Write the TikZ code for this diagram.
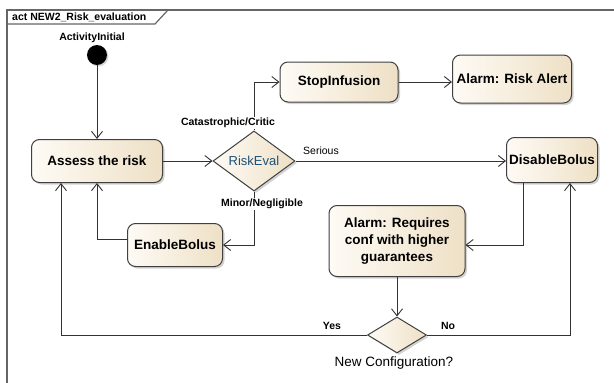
\documentclass[tikz,border=0pt]{standalone}
\usepackage{fontspec}
\setmainfont{Liberation Sans}
\usetikzlibrary{shapes.geometric,arrows.meta,shadows}
\definecolor{actlight}{RGB}{254,251,245}
\definecolor{actdark}{RGB}{238,224,198}
\definecolor{actline}{RGB}{64,64,64}
\definecolor{evaltext}{RGB}{30,80,120}
\begin{document}
\begin{tikzpicture}[x=1pt,y=-1pt,
  action/.style={draw=actline,line width=1pt,rounded corners=8pt,left color=actlight,right color=actdark,
    drop shadow={shadow xshift=2pt,shadow yshift=-2pt,opacity=0.35},
    font=\fontsize{13.5}{17}\selectfont\bfseries,align=center,inner sep=0pt},
  decision/.style={diamond,draw=actline,line width=1pt,left color=actlight,right color=actdark,
    drop shadow={shadow xshift=2pt,shadow yshift=-2pt,opacity=0.35},inner sep=0pt},
  guard/.style={font=\fontsize{10.5}{12}\selectfont\bfseries,fill=white,inner sep=1pt},
  flow/.style={draw=black!80,line width=0.9pt,-{Straight Barb[length=7pt,width=11pt]}}]
\useasboundingbox (0,0) rectangle (614,383);
\draw[actline!80,line width=1.2pt] (7,383) -- (7,10) -- (614,10);
\draw[actline!80,line width=1.2pt] (7,24) -- (155,24) -- (168,10);
\node[anchor=west,font=\fontsize{10.5}{12}\selectfont\bfseries,inner sep=0pt] (frametitle) at (12,17) {act NEW2\_Risk\_evaluation};
\node[circle,fill=black,minimum size=20pt,inner sep=0pt,drop shadow={shadow xshift=1.5pt,shadow yshift=-1.5pt,opacity=0.3}] (start) at (97,55) {};
\node[font=\fontsize{10.5}{12}\selectfont\bfseries,inner sep=0pt] (startlabel) at (92,38) {ActivityInitial};
\node[action,minimum width=131pt,minimum height=43pt] (assess) at (97,161) {Assess the risk};
\node[decision,minimum width=82pt,minimum height=55pt,font=\fontsize{13}{15}\selectfont,text=evaltext] (riskeval) at (254,161) {RiskEval};
\node[action,minimum width=118pt,minimum height=40pt] (stop) at (339,82) {StopInfusion};
\node[action,minimum width=119pt,minimum height=48pt] (riskalert) at (512,79) {Alarm: Risk Alert};
\node[action,minimum width=91pt,minimum height=45pt] (disable) at (552,160) {DisableBolus};
\node[action,minimum width=95pt,minimum height=43pt] (enable) at (175,245) {EnableBolus};
\node[action,minimum width=136pt,minimum height=71pt] (higher) at (397,241) {Alarm: Requires\\conf with higher\\guarantees};
\node[decision,minimum width=59pt,minimum height=36pt] (newconf) at (397,335) {};
\node[font=\fontsize{13.5}{15}\selectfont,inner sep=0pt] (newconflabel) at (394,363) {New Configuration?};
\draw[flow] (start) -- (assess);
\draw[flow] (assess) -- (riskeval);
\draw[flow] (riskeval.north) |- (stop.west);
\draw[flow] (stop.east) -- (stop.east -| riskalert.west);
\draw[flow] (riskeval.east) -- (riskeval.east -| disable.west);
\draw[flow] (riskeval.south) |- (enable.east);
\draw[flow] ([yshift=6pt]enable.west) -| (assess.south);
\draw[flow] ([xshift=-29pt]disable.south) |- ([yshift=-4pt]higher.east);
\draw[flow] (higher) -- (newconf);
\draw[flow] (newconf.east) -| ([xshift=18pt]disable.south);
\draw[flow] (newconf.west) -| ([xshift=-36pt]assess.south);
\node[guard] (critic) at (228,123) {Catastrophic/Critic};
\node[guard] (minor) at (262,204) {Minor/Negligible};
\node[guard,font=\fontsize{10.5}{12}\selectfont] (serious) at (321,151) {Serious};
\node[guard] (yes) at (332,326) {Yes};
\node[guard] (no) at (448,326) {No};
\end{tikzpicture}
\end{document}
